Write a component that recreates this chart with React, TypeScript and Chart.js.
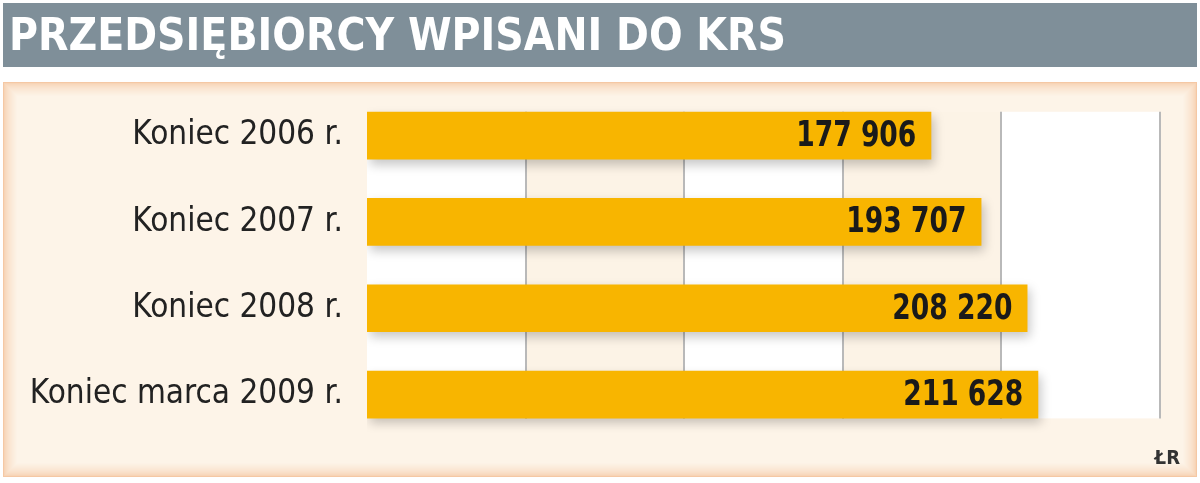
import { useEffect, useRef } from 'react';
import { Chart, registerables } from 'chart.js';

Chart.register(...registerables);

const TITLE = 'PRZEDSIĘBIORCY WPISANI DO KRS';
const SOURCE = 'ŁR';
const categories = ['Koniec 2006 r.', 'Koniec 2007 r.', 'Koniec 2008 r.', 'Koniec marca 2009 r.'];
const firms = [177906, 193707, 208220, 211628];
const xTicks = [0, 50000, 100000, 150000, 200000, 250000];

const CONDENSED = "'DejaVu Sans Condensed', 'DejaVu Sans', sans-serif";

const fmt = (v: number) => String(v).replace(/\B(?=(\d{3})+(?!\d))/g, ' ');

// grey header strip + peach panel behind everything
const framePlugin = {
  id: 'frame',
  beforeDraw(chart: Chart) {
    const { ctx, width } = chart;
    ctx.save();
    ctx.fillStyle = '#ffffff';
    ctx.fillRect(0, 0, width, chart.height);
    ctx.fillStyle = '#7f8f99';
    ctx.fillRect(3, 3, width - 6, 64);
    // soft peach border fading into cream
    const outer = [245, 200, 164];
    const inner = [253, 244, 232];
    const steps = 14;
    for (let i = 0; i <= steps; i++) {
      const t = i / steps;
      const c = outer.map((o, k) => Math.round(o + (inner[k] - o) * Math.sqrt(t)));
      ctx.fillStyle = `rgb(${c[0]},${c[1]},${c[2]})`;
      ctx.fillRect(3 + i, 82 + i, width - 6 - 2 * i, 395 - 2 * i);
    }
    ctx.restore();
  },
};

// alternating columns + gridlines, only as tall as the bars
const plotPlugin = {
  id: 'plotBg',
  beforeDatasetsDraw(chart: Chart) {
    const { ctx } = chart;
    const x = chart.scales.x;
    const bars = chart.getDatasetMeta(0).data as any[];
    if (!bars.length) return;
    const top = bars[0].y - bars[0].height / 2;
    const bottom = bars[bars.length - 1].y + bars[bars.length - 1].height / 2;
    ctx.save();
    for (let i = 0; i < xTicks.length - 1; i++) {
      const x0 = x.getPixelForValue(xTicks[i]);
      const x1 = x.getPixelForValue(xTicks[i + 1]);
      ctx.fillStyle = i % 2 === 0 ? '#ffffff' : '#fcf3e6';
      ctx.fillRect(x0, top, x1 - x0, bottom - top);
    }
    ctx.strokeStyle = '#b9b9b9';
    ctx.lineWidth = 2;
    for (let i = 1; i < xTicks.length; i++) {
      const px = Math.round(x.getPixelForValue(xTicks[i]));
      ctx.beginPath();
      ctx.moveTo(px, top);
      ctx.lineTo(px, bottom);
      ctx.stroke();
    }
    ctx.restore();
    // drop shadow for the bars
    ctx.save();
    ctx.shadowColor = 'rgba(0,0,0,0.22)';
    ctx.shadowBlur = 10;
    ctx.shadowOffsetX = 3;
    ctx.shadowOffsetY = 5;
  },
  afterDatasetsDraw(chart: Chart) {
    const { ctx } = chart;
    ctx.restore();
    const bars = chart.getDatasetMeta(0).data as any[];
    bars.forEach((bar, i) => {
      ctx.save();
      ctx.font = `bold 36px ${CONDENSED}`;
      ctx.fillStyle = '#1a1a1a';
      ctx.textAlign = 'right';
      ctx.textBaseline = 'middle';
      // squeeze horizontally to get the narrow look of the original
      ctx.translate(bar.x - 15, bar.y + 1);
      ctx.scale(0.82, 1);
      ctx.fillText(fmt(firms[i]), 0, 0);
      ctx.restore();
    });
  },
};

const App = () => {
  const canvasRef = useRef<HTMLCanvasElement | null>(null);
  const chartRef = useRef<Chart | null>(null);

  useEffect(() => {
    if (!canvasRef.current) return;
    const ctx = canvasRef.current.getContext('2d');
    if (!ctx) return;
    if (chartRef.current) chartRef.current.destroy();

    chartRef.current = new Chart(ctx, {
      type: 'bar',
      data: {
        labels: categories,
        datasets: [
          {
            label: 'Przedsiębiorcy',
            data: firms,
            backgroundColor: '#f8b500',
            borderWidth: 0,
            barPercentage: 0.553,
            categoryPercentage: 1,
          },
        ],
      },
      options: {
        indexAxis: 'y',
        animation: false,
        responsive: true,
        maintainAspectRatio: false,
        layout: { padding: { left: 9, right: 20, top: 0, bottom: 0 } },
        plugins: {
          legend: { display: false },
          tooltip: { enabled: false },
          title: {
            display: true,
            text: TITLE,
            align: 'start',
            color: '#ffffff',
            font: { family: CONDENSED, size: 44, weight: 'bold', lineHeight: 1.2 },
            padding: { top: 12, bottom: 27.7 },
          },
          subtitle: {
            display: true,
            text: SOURCE,
            position: 'bottom',
            align: 'end',
            color: '#333333',
            font: { family: CONDENSED, size: 20, weight: 'bold', lineHeight: 1.2 },
            padding: { top: 9.3, bottom: 12 },
          },
        },
        scales: {
          x: {
            display: false,
            min: xTicks[0],
            max: xTicks[xTicks.length - 1],
            ticks: { stepSize: xTicks[1] - xTicks[0] },
          },
          y: {
            grid: { display: false, drawTicks: false },
            border: { display: false },
            ticks: {
              color: '#222222',
              padding: 24,
              font: { family: CONDENSED, size: 33 },
            },
            afterFit: (s: any) => {
              s.width = 358;
            },
          },
          yRight: {
            type: 'category',
            position: 'right',
            grid: { display: false, drawTicks: false },
            border: { display: false },
            ticks: { display: false },
            afterFit: (s: any) => {
              s.width = 20;
            },
          },
        },
      },
      plugins: [framePlugin, plotPlugin],
    });

    return () => {
      if (chartRef.current) {
        chartRef.current.destroy();
        chartRef.current = null;
      }
    };
  }, []);

  return (
    <div style={{ position: 'absolute', left: 0, top: 0, width: 1200, height: 483 }}>
      <canvas ref={canvasRef} />
    </div>
  );
};

export default App;
